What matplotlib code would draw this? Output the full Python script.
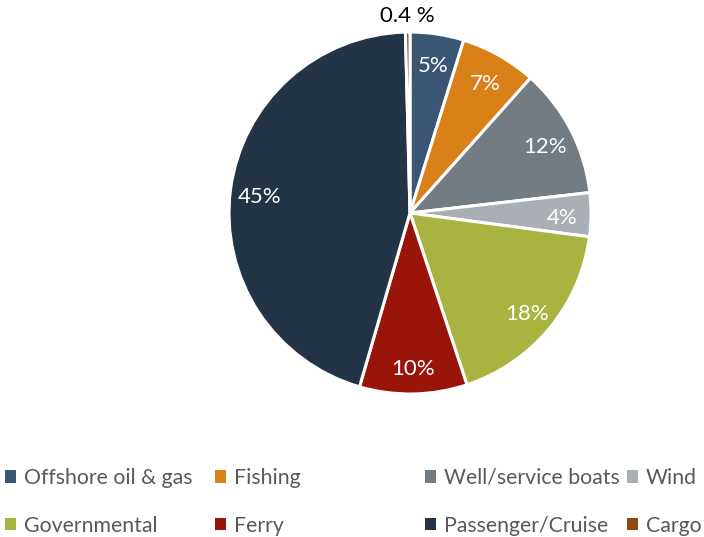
import numpy as np
import matplotlib
matplotlib.use("Agg")
import matplotlib.pyplot as plt
from matplotlib.patches import Patch

categories = ["Offshore oil & gas", "Fishing", "Well/service boats", "Wind",
              "Governmental", "Ferry", "Passenger/Cruise", "Cargo"]
values = [4.8, 6.8, 11.6, 3.9, 17.8, 9.6, 45.1, 0.4]
value_labels = ["5%", "7%", "12%", "4%", "18%", "10%", "45%", "0.4 %"]
colors = ["#3B5675", "#D98019", "#737B83", "#A9AFB5",
          "#A8B43F", "#99150A", "#243447", "#8B4A14"]

plt.rcParams['font.family'] = ['Lato', 'DejaVu Sans']

W, H = 704, 537
fig = plt.figure(figsize=(W / 100, H / 100), dpi=100)
cx, cy, r = 410, 213, 181
ax = fig.add_axes([(cx - r) / W, 1 - (cy + r) / H, 2 * r / W, 2 * r / H])
wedges, _ = ax.pie(values, colors=colors, startangle=90, counterclock=False,
                   radius=1.0, wedgeprops=dict(edgecolor="white", linewidth=2.2))
ax.set_xlim(-1, 1)
ax.set_ylim(-1, 1)
ax.set_aspect('equal')
ax.axis('off')

total = sum(values)
cum = 0
for v, lab in zip(values, value_labels):
    mid = 90 - 360 * (cum + v / 2) / total
    cum += v
    th = np.deg2rad(mid)
    if v < 1:
        d = 1.08
        ax.text(d * np.cos(th), d * np.sin(th) + 0.01, lab, ha='center', va='center',
                fontsize=16, color='black')
    else:
        d = 0.84
        ax.text(d * np.cos(th), d * np.sin(th) - 0.02, lab, ha='center', va='center',
                fontsize=16, color='white')

# legend: 4 columns, 2 rows (row-major)
col_x = [5, 215, 425, 627]
for c in range(4):
    idxs = [c, c + 4]
    handles = [Patch(facecolor=colors[i], edgecolor='none') for i in idxs]
    fig.legend(handles, [categories[i] for i in idxs], loc='upper left',
               bbox_to_anchor=(col_x[c] / W, 1 - 468 / H), frameon=False,
               fontsize=15.3, labelcolor='#595959', handlelength=0.5, handleheight=0.5,
               handletextpad=0.4, labelspacing=1.3, borderaxespad=0, borderpad=0)

fig.savefig("out.png", dpi=100)
